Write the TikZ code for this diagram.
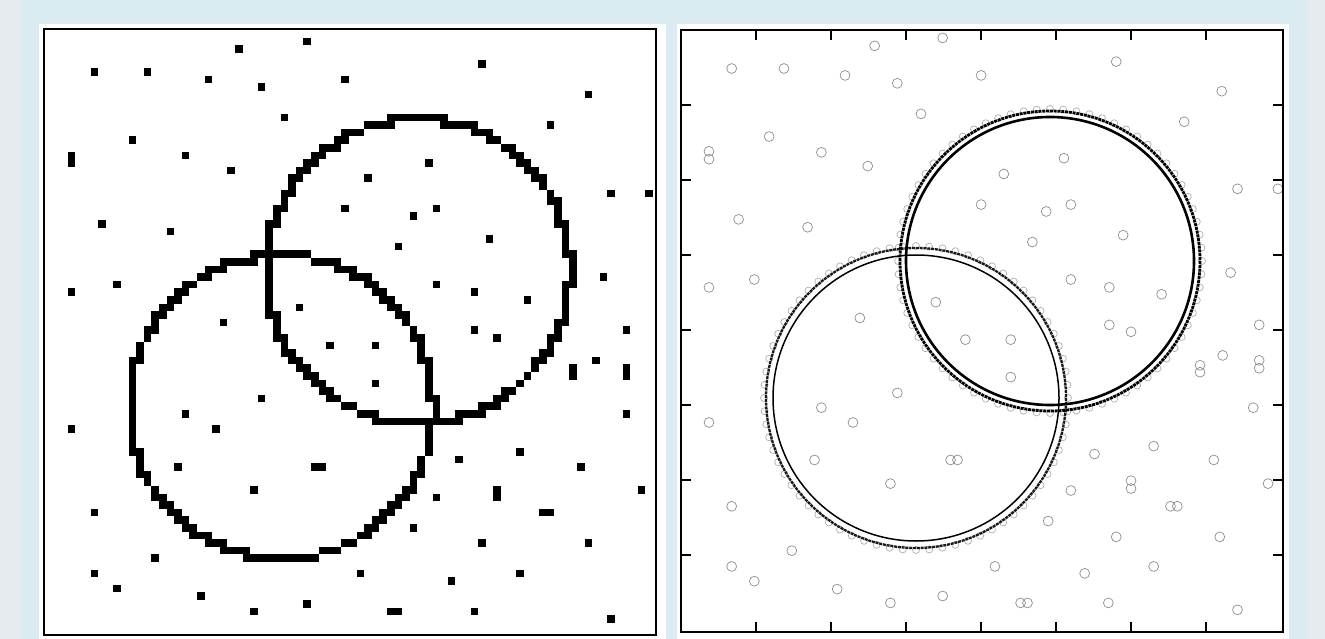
\documentclass[tikz,border=0pt]{standalone}
\usepackage{tikz}
\definecolor{frameGrey}{HTML}{E6EBEF}
\definecolor{frameBlue}{HTML}{DAECF2}
\definecolor{hitGrey}{HTML}{8E8E8E}

\begin{document}
\begin{tikzpicture}[x=1pt, y=-1pt,
    pixel/.style={fill=black},
    hit/.style={draw=hitGrey, line width=0.7pt},
    tick/.style={line width=2pt}]
\useasboundingbox (0,0) rectangle (1325,639);
\fill[frameGrey] (0,0) rectangle (1325,639);
\fill[frameBlue] (22,0) rectangle (1308,639);
\fill[white] (39,24) rectangle (666,639);
\fill[white] (677,24) rectangle (1289,639);

\def\samplepts{95/71, 148/71, 240/48, 309/40, 210/78, 263/86, 348/78, 485/64, 592/94,
  287/117, 554/125, 133/140, 186/156, 72/155, 72/163, 233/170, 432/162, 371/178,
  608/193, 649/193, 348/209, 439/209, 414/216, 102/224, 172/232, 492/240, 400/247,
  601/278, 118/285, 439/285, 72/293, 478/293, 531/300, 302/308, 225/324, 478/331,
  630/331, 500/338, 332/346, 378/346, 593/362, 570/372, 570/379, 630/367, 630/375,
  378/384, 263/400, 186/415, 624/415, 218/430, 72/430, 523/454, 463/462, 179/468,
  317/468, 324/468, 584/468, 256/492, 439/499, 500/489, 500/497, 639/492, 95/515,
  540/515, 547/515, 416/530, 485/546, 590/546, 156/560, 95/576, 362/576, 523/576,
  453/583, 118/591, 202/599, 309/606, 256/613, 388/613, 395/613, 477/613, 608/620}

% left: binary image
\foreach \px/\py in \samplepts {
  \pgfmathsetmacro\ci{floor((\px-45)/7.6)}
  \pgfmathsetmacro\cj{floor((\py-30)/7.6)}
  \fill[pixel] (45+7.6*\ci, 30+7.6*\cj) rectangle ++(7.6,7.6);
}
\foreach \cx/\cy in {281/407, 418/271}
  \foreach \a in {0,0.5,...,359.5} {
    \pgfmathsetmacro\ci{floor((\cx+152*cos(\a)-45)/7.6)}
    \pgfmathsetmacro\cj{floor((\cy+152*sin(\a)-30)/7.6)}
    \fill[pixel] (45+7.6*\ci, 30+7.6*\cj) rectangle ++(7.6,7.6);
  }
\draw[line width=2.5pt] (44,29) rectangle (656,635);

% right: detected circles
\begin{scope}[shift={(638,-1.5)}, scale=0.986]
  \foreach \px/\py in \samplepts
    \draw[hit] (\px,\py) circle (5);
\end{scope}
\foreach \a in {0,5,...,355} {
  \draw[hit, draw opacity=0.7] (916,398) ++(\a:152) circle (3.5);
  \draw[hit, draw opacity=0.7] (1050,261) ++(\a:152) circle (3.5);
}
\draw[line width=1.5pt] (916,398) circle (143);
\draw[line width=2.3pt, black!90, dash pattern=on 3pt off 0.8pt] (916,398) circle (150);
\draw[line width=2.6pt] (1050,261) circle (144);
\draw[line width=2.8pt, dash pattern=on 3pt off 0.8pt] (1050,261) circle (150);

\draw[line width=2pt] (681,30) rectangle (1283,632);
\foreach \k in {1,...,7} {
  \draw[tick] (681+75*\k,30) -- ++(0,10);
  \draw[tick] (681+75*\k,632) -- ++(0,-10);
  \draw[tick] (681,30+75*\k) -- ++(10,0);
  \draw[tick] (1283,30+75*\k) -- ++(-10,0);
}
\end{tikzpicture}
\end{document}
